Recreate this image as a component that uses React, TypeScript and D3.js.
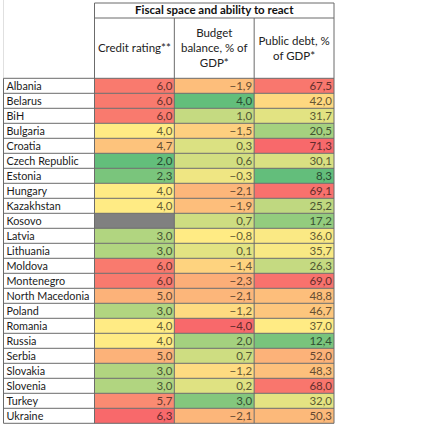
import React from "react";
import * as d3 from "d3";

const countries = [
  "Albania", "Belarus", "BiH", "Bulgaria", "Croatia", "Czech Republic", "Estonia",
  "Hungary", "Kazakhstan", "Kosovo", "Latvia", "Lithuania", "Moldova", "Montenegro",
  "North Macedonia", "Poland", "Romania", "Russia", "Serbia", "Slovakia", "Slovenia",
  "Turkey", "Ukraine",
];
const creditRating: (number | null)[] = [
  6.0, 6.0, 6.0, 4.0, 4.7, 2.0, 2.3, 4.0, 4.0, null, 3.0, 3.0, 6.0, 6.0, 5.0, 3.0, 4.0,
  4.0, 5.0, 3.0, 3.0, 5.7, 6.3,
];
const budgetBalance: (number | null)[] = [
  -1.9, 4.0, 1.0, -1.5, 0.3, 0.6, -0.3, -2.1, -1.9, 0.7, -0.8, 0.1, -1.4, -2.3, -2.1,
  -1.2, -4.0, 2.0, 0.7, -1.2, 0.2, 3.0, -2.1,
];
const publicDebt: (number | null)[] = [
  67.5, 42.0, 31.7, 20.5, 71.3, 30.1, 8.3, 69.1, 25.2, 17.2, 36.0, 35.7, 26.3, 69.0,
  48.8, 46.7, 37.0, 12.4, 52.0, 48.3, 68.0, 32.0, 50.3,
];
const groupTitle = "Fiscal space and ability to react";
const columnHeaders = [["Credit rating**"], ["Budget", "balance, % of", "GDP*"], ["Public debt, %", "of GDP*"]];
const higherIsBetter = [false, true, false];

const RED = "#F8696B";
const YEL = "#FFEB84";
const GRN = "#63BE7B";
const FONT = "Lato, 'Open Sans', sans-serif";

const fmt = d3.formatLocale({ decimal: ",", thousands: " ", grouping: [3], currency: ["", ""] }).format(".1f");

export default function App() {
  const W = 428, H = 428;
  const left = 3.5, nameRight = 94.5, right = 334;
  const top = 3, head1 = 18, dataTop = 78.3, dataBottom = 423.3;
  const series = [creditRating, budgetBalance, publicDebt];

  const y = d3.scaleBand<string>().domain(countries).range([dataTop, dataBottom]);
  const x = d3.scaleBand<number>().domain([0, 1, 2]).range([nameRight, right]);

  const colorScales = series.map((s, i) => {
    const vals = s.filter((v): v is number => v != null);
    const ext = d3.extent(vals) as [number, number];
    const med = d3.median(vals) as number;
    const range = higherIsBetter[i] ? [RED, YEL, GRN] : [GRN, YEL, RED];
    return d3.scaleLinear<string>().domain([ext[0], med, ext[1]]).range(range).interpolate(d3.interpolateRgb);
  });

  const lineColor = "#6b6b6b";

  return (
    <svg width={W} height={H} style={{ position: "absolute", left: 0, top: 0, background: "#fff" }}>
      {series.map((s, ci) =>
        countries.map((c, ri) => {
          const v = s[ri];
          const fill = v == null ? "#808080" : colorScales[ci](v);
          return (
            <rect key={`c${ci}-${ri}`} x={x(ci)} y={y(c)} width={x.bandwidth()} height={y.bandwidth()} fill={fill} />
          );
        })
      )}
      <line x1={left} x2={left} y1={0} y2={dataTop} stroke="#e0e0e0" />
      <line x1={nameRight} x2={right} y1={top} y2={top} stroke={lineColor} />
      <line x1={nameRight} x2={right} y1={head1} y2={head1} stroke={lineColor} />
      <line x1={right} x2={right} y1={top} y2={dataBottom} stroke={lineColor} />
      <line x1={nameRight} x2={nameRight} y1={top} y2={dataBottom} stroke={lineColor} />
      {[1, 2].map((ci) => (
        <line key={`v${ci}`} x1={x(ci)} x2={x(ci)} y1={head1} y2={dataBottom} stroke={lineColor} />
      ))}
      <line x1={left} x2={left} y1={dataTop} y2={dataBottom} stroke={lineColor} />
      {countries.map((c) => (
        <line key={`h${c}`} x1={left} x2={right} y1={y(c)} y2={y(c)} stroke={lineColor} />
      ))}
      <line x1={left} x2={right} y1={dataBottom} y2={dataBottom} stroke={lineColor} />
      <text x={(nameRight + right) / 2} y={top + 11} textAnchor="middle" fontFamily={FONT} fontWeight="bold" fontSize={11.5} fill="#111">
        {groupTitle}
      </text>
      {columnHeaders.map((lines, ci) => {
        const cx = (x(ci) as number) + x.bandwidth() / 2;
        const mid = (head1 + dataTop) / 2;
        const lh = 15;
        const start = mid - ((lines.length - 1) * lh) / 2;
        return lines.map((t, li) => (
          <text key={`hd${ci}-${li}`} x={cx} y={start + li * lh + 4} textAnchor="middle" fontFamily={FONT} fontSize={11.5} fill="#222">
            {t}
          </text>
        ));
      })}
      {countries.map((c) => (
        <text key={`n${c}`} x={left + 3} y={(y(c) as number) + y.bandwidth() / 2 + 4} fontFamily={FONT} fontSize={10.8} fill="#1a1a1a">
          {c}
        </text>
      ))}
      {series.map((s, ci) =>
        countries.map((c, ri) => {
          const v = s[ri];
          if (v == null) return null;
          const fill = colorScales[ci](v);
          const tc = d3.interpolateRgb(fill, "#000")(0.6);
          return (
            <text key={`t${ci}-${ri}`} x={(x(ci) as number) + x.bandwidth() - 2} y={(y(c) as number) + y.bandwidth() / 2 + 4} textAnchor="end" fontFamily={FONT} fontSize={11.5} fill={tc}>
              {fmt(v)}
            </text>
          );
        })
      )}
    </svg>
  );
}
